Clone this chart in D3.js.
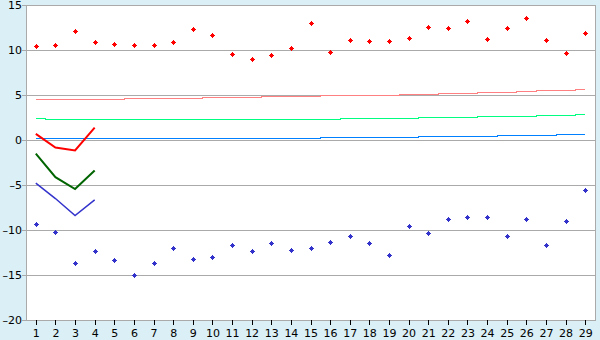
<!DOCTYPE html>
<html lang="en">
<head>
<meta charset="UTF-8">
<title>Chart</title>
<script src="https://cdn.jsdelivr.net/npm/d3@7"></script>
<style>
  body { margin: 0; background: #daeff6; }
  svg { display: block; font-family: "DejaVu Sans", sans-serif; }
</style>
</head>
<body>
<svg></svg>
<script>
    const categories = d3.range(1, 30);
    const yTicks = [-20, -15, -10, -5, 0, 5, 10, 15];

    // scatter series
    const upperPoints = [10.44, 10.52, 12.1, 10.85, 10.63, 10.52, 10.52, 10.85, 12.3, 11.63,
        9.52, 8.96, 9.41, 10.19, 12.96, 9.74, 11.07, 10.96, 10.96, 11.3,
        12.52, 12.41, 13.19, 11.19, 12.41, 13.52, 11.07, 9.63, 11.85];
    const lowerPoints = [-9.37, -10.26, -13.7, -12.37, -13.37, -15.04, -13.7, -12.04, -13.26, -13.04,
        -11.7, -12.37, -11.48, -12.26, -12.04, -11.37, -10.7, -11.48, -12.81, -9.59,
        -10.37, -8.81, -8.59, -8.59, -10.7, -8.81, -11.7, -9.04, -5.55];

    // stepped trend series
    const pinkLine = [4.56, 4.56, 4.56, 4.56, 4.56, 4.67, 4.67, 4.67, 4.67, 4.78,
        4.78, 4.78, 4.89, 4.89, 4.89, 5.0, 5.0, 5.0, 5.0, 5.11,
        5.11, 5.22, 5.22, 5.33, 5.33, 5.44, 5.56, 5.56, 5.67];
    const greenLine = [2.44, 2.33, 2.33, 2.33, 2.33, 2.33, 2.33, 2.33, 2.33, 2.33,
        2.33, 2.33, 2.33, 2.33, 2.33, 2.33, 2.44, 2.44, 2.44, 2.44,
        2.56, 2.56, 2.56, 2.67, 2.67, 2.67, 2.78, 2.78, 2.89];
    const blueLine = [0.22, 0.22, 0.22, 0.22, 0.22, 0.22, 0.22, 0.22, 0.22, 0.22,
        0.22, 0.22, 0.22, 0.22, 0.22, 0.33, 0.33, 0.33, 0.33, 0.33,
        0.44, 0.44, 0.44, 0.44, 0.56, 0.56, 0.56, 0.67, 0.67];

    // short lines over the first four categories
    const redShort = [0.74, -0.78, -1.11, 1.44];
    const darkGreenShort = [-1.45, -4.07, -5.4, -3.33];
    const blueShort = [-4.74, -6.45, -8.33, -6.59];

    const width = 600, height = 340;
    const plotL = 26, plotR = 595, plotT = 5, plotB = 320;

    const svg = d3.select("svg")
        .attr("width", width)
        .attr("height", height);

    const x = d3.scalePoint()
        .domain(categories)
        .range([plotL, plotR])
        .padding(0.5);

    const y = d3.scaleLinear()
        .domain([-20, 15])
        .range([plotB + 0.5, plotT + 0.5]);

    // plot background
    svg.append("rect")
        .attr("x", plotL)
        .attr("y", plotT)
        .attr("width", plotR - plotL)
        .attr("height", plotB - plotT)
        .attr("fill", "#fff");

    // gridlines
    svg.append("g")
        .attr("stroke", "#aaa")
        .attr("shape-rendering", "crispEdges")
        .selectAll("line")
        .data(yTicks)
        .join("line")
        .attr("x1", plotL - 4)
        .attr("x2", plotR)
        .attr("y1", d => y(d))
        .attr("y2", d => y(d));

    // left and right frame
    svg.append("g")
        .attr("stroke", "#aaa")
        .attr("shape-rendering", "crispEdges")
        .selectAll("line")
        .data([plotL, plotR])
        .join("line")
        .attr("x1", d => d + 0.5)
        .attr("x2", d => d + 0.5)
        .attr("y1", plotT)
        .attr("y2", plotB + 1);

    // y labels
    svg.append("g")
        .attr("font-size", 11)
        .attr("text-anchor", "end")
        .selectAll("text")
        .data(yTicks)
        .join("text")
        .attr("x", plotL - 4)
        .attr("y", d => y(d))
        .attr("dy", "0.36em")
        .text(d => d.toString().replace("-", "\u2013"));

    // x ticks and labels
    const xt = svg.append("g");
    xt.selectAll("line")
        .data(categories)
        .join("line")
        .attr("shape-rendering", "crispEdges")
        .attr("stroke", "#000")
        .attr("x1", d => Math.round(x(d)) + 0.5)
        .attr("x2", d => Math.round(x(d)) + 0.5)
        .attr("y1", plotB)
        .attr("y2", plotB + 5);
    xt.selectAll("text")
        .data(categories)
        .join("text")
        .attr("font-size", 11)
        .attr("text-anchor", "middle")
        .attr("x", d => x(d) + 0.5)
        .attr("y", 337)
        .text(d => d);

    // stepped lines
    const step = d3.line()
        .x((d, i) => Math.round(x(categories[i])))
        .y(d => y(d))
        .curve(d3.curveStep);

    [[pinkLine, "#ff8080"], [greenLine, "#00ff80"], [blueLine, "#0080ff"]].forEach(([data, color]) => {
        svg.append("path")
            .datum(data)
            .attr("fill", "none")
            .attr("stroke", color)
            .attr("stroke-width", 1)
            .attr("shape-rendering", "crispEdges")
            .attr("d", step);
    });

    // short lines
    const line = d3.line()
        .x((d, i) => x(categories[i]))
        .y(d => y(d));

    [[redShort, "#ff0000", 2], [darkGreenShort, "#006400", 2], [blueShort, "#3333cc", 1.5]].forEach(([data, color, w]) => {
        svg.append("path")
            .datum(data)
            .attr("fill", "none")
            .attr("stroke", color)
            .attr("stroke-width", w)
            .attr("d", line);
    });

    // markers: small plus-shaped diamonds
    function markers(data, color) {
        const g = svg.append("g")
            .attr("fill", color)
            .attr("shape-rendering", "crispEdges")
            .selectAll("g")
            .data(data)
            .join("g")
            .attr("transform", (d, i) => `translate(${Math.round(x(categories[i]))},${Math.round(y(d) - 0.5)})`);
        g.append("rect").attr("x", 0).attr("y", -2).attr("width", 1).attr("height", 5);
        g.append("rect").attr("x", -2).attr("y", 0).attr("width", 5).attr("height", 1);
        g.append("rect").attr("x", -1).attr("y", -1).attr("width", 3).attr("height", 3);
    }
    markers(upperPoints, "#ff0000");
    markers(lowerPoints, "#3333cc");
</script>
</body>
</html>
